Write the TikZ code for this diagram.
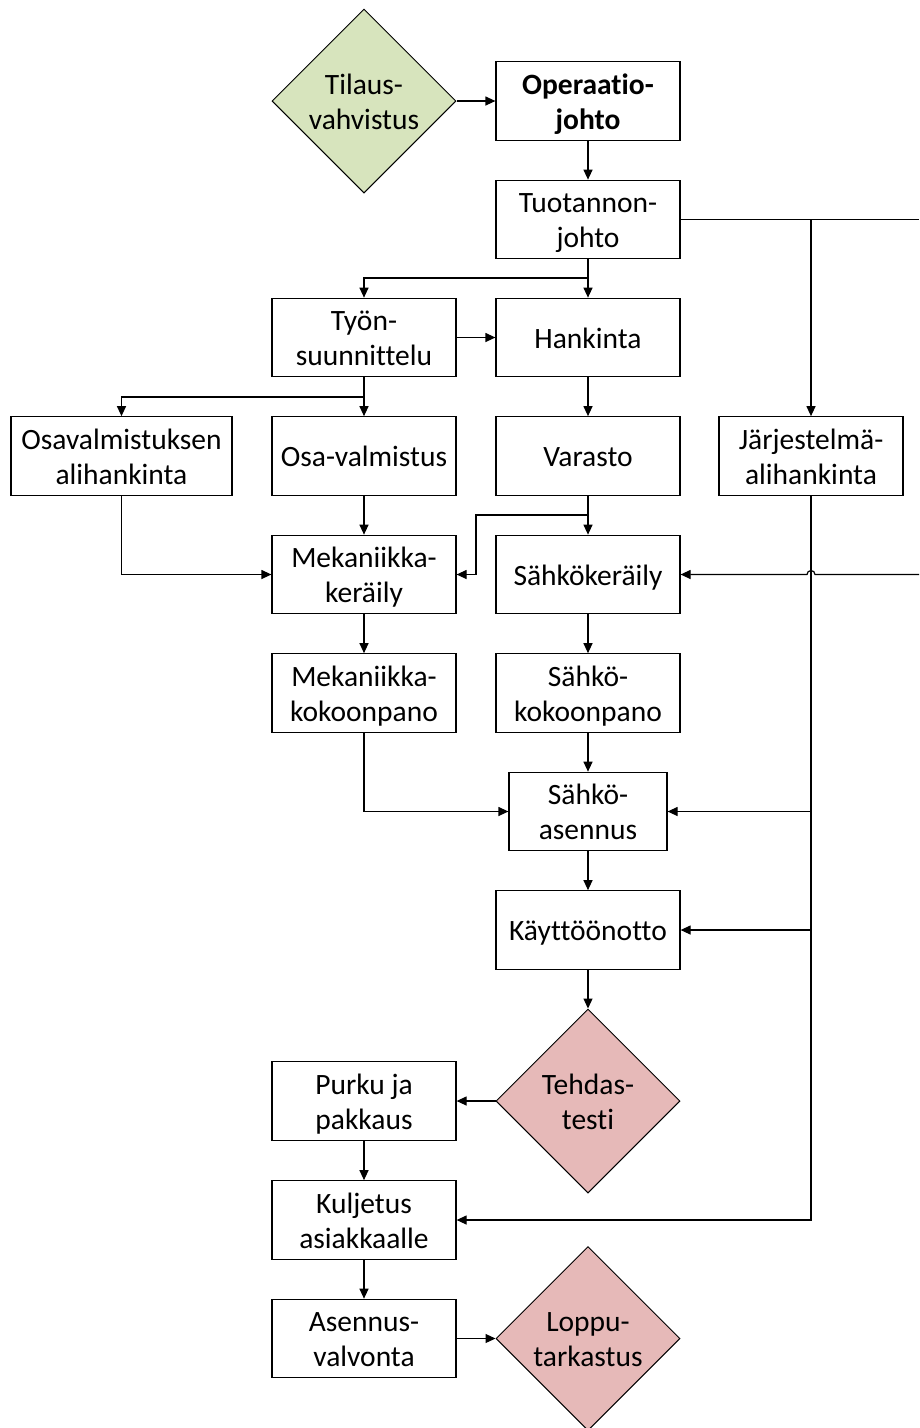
\documentclass[tikz,border=0pt]{standalone}
\usepackage{fontspec}
\setmainfont{Carlito}[Ligatures=NoCommon]
\usetikzlibrary{arrows.meta,shapes.geometric}

\definecolor{ordergreen}{HTML}{D7E4BD}
\definecolor{testpink}{HTML}{E6B9B8}

% line strut: every text line gets the same height and depth
\newcommand{\lstrut}{\rule[-7pt]{0pt}{35pt}}

\tikzset{
  stepbox/.style={draw, line width=1.2pt, rectangle, inner sep=0pt,
    minimum width=184pt, minimum height=78.5pt, align=center,
    font=\fontsize{29.5}{35}\selectfont},
  decision/.style={draw, line width=1pt, diamond, aspect=1, inner sep=0pt,
    minimum width=184pt, minimum height=184pt, align=center,
    font=\fontsize{29.5}{35}\selectfont},
  link/.style={line width=1.2pt},
  arr/.style={link, -{Triangle[length=10pt,width=9pt]}}
}

\begin{document}
\begin{tikzpicture}[x=1pt, y=-1pt]
  \useasboundingbox (0,0) rectangle (919,1428);

  % top row
  \node[decision, fill=ordergreen] (tilaus) at (364,101) {\lstrut Tilaus-\\\lstrut vahvistus};
  \node[stepbox] (oper) at (588,101) {\lstrut\textbf{Operaatio-}\\\lstrut\textbf{johto}};
  \node[stepbox] (tuot) at (588,219.5) {\lstrut Tuotannon-\\\lstrut johto};

  % planning and purchasing
  \node[stepbox] (tyon) at (364,337.5) {\lstrut Työn-\\\lstrut suunnittelu};
  \node[stepbox] (hank) at (588,337.5) {\lstrut Hankinta};

  % parts, stock and subcontracting
  \node[stepbox, minimum width=221pt] (osaal) at (121.5,456) {\lstrut Osavalmistuksen\\\lstrut alihankinta};
  \node[stepbox] (osaval) at (364,456) {\lstrut Osa-valmistus};
  \node[stepbox] (varasto) at (588,456) {\lstrut Varasto};
  \node[stepbox] (jarj) at (811,456) {\lstrut Järjestelmä-\\\lstrut alihankinta};

  % picking
  \node[stepbox] (mekker) at (364,574.5) {\lstrut Mekaniikka-\\\lstrut keräily};
  \node[stepbox] (sahker) at (588,574.5) {\lstrut Sähkökeräily};

  % assembly
  \node[stepbox] (mekkok) at (364,693) {\lstrut Mekaniikka-\\\lstrut kokoonpano};
  \node[stepbox] (sahkok) at (588,693) {\lstrut Sähkö-\\\lstrut kokoonpano};
  \node[stepbox, minimum width=158pt] (sahkoas) at (588,811.5) {\lstrut Sähkö-\\\lstrut asennus};
  \node[stepbox] (kaytto) at (588,930) {\lstrut Käyttöönotto};

  % testing and delivery
  \node[decision, fill=testpink] (tehdas) at (588,1101) {\lstrut Tehdas-\\\lstrut testi};
  \node[stepbox] (purku) at (364,1101) {\lstrut Purku ja\\\lstrut pakkaus};
  \node[stepbox] (kulj) at (364,1220) {\lstrut Kuljetus\\\lstrut asiakkaalle};
  \node[stepbox] (asval) at (364,1338.5) {\lstrut Asennus-\\\lstrut valvonta};
  \node[decision, fill=testpink] (loppu) at (588,1338.5) {\lstrut Loppu-\\\lstrut tarkastus};

  % helper points
  \coordinate (rim) at (919,0);
  \coordinate (split1) at (588,278);
  \coordinate (split2) at (364,397);
  \coordinate (split3) at (588,515);
  \coordinate (bend) at (476,515);
  \coordinate (edgeA) at (tuot.east -| rim);
  \coordinate (edgeB) at (sahker.east -| rim);
  \coordinate (branchA) at (jarj.north |- tuot.east);
  \coordinate (jmp) at (jarj.south |- sahker.east);

  % main flow
  \draw[arr] (tilaus.east) -- (oper.west);
  \draw[arr] (oper) -- (tuot);
  \draw[arr] (tuot) -- (hank);
  \draw[arr] (split1) -| (tyon.north);
  \draw[arr] (tyon) -- (hank);
  \draw[arr] (tyon) -- (osaval);
  \draw[arr] (split2) -| (osaal.north);
  \draw[arr] (hank) -- (varasto);
  \draw[arr] (varasto) -- (sahker);
  \draw[arr] (split3) -- (bend) |- (mekker.east);
  \draw[arr] (osaal.south) |- (mekker.west);
  \draw[arr] (osaval) -- (mekker);
  \draw[arr] (mekker) -- (mekkok);
  \draw[arr] (sahker) -- (sahkok);
  \draw[arr] (sahkok) -- (sahkoas);
  \draw[arr] (mekkok.south) |- (sahkoas.west);
  \draw[arr] (sahkoas) -- (kaytto);
  \draw[arr] (kaytto) -- (tehdas);
  \draw[arr] (tehdas.west) -- (purku.east);
  \draw[arr] (purku) -- (kulj);
  \draw[arr] (kulj) -- (asval);
  \draw[arr] (asval.east) -- (loppu.west);

  % system subcontracting branch
  \draw[link] (tuot.east) -- (edgeA);
  \draw[arr] (branchA) -- (jarj.north);
  \draw[arr] (jarj.south) |- (kulj.east);
  \draw[arr] (jarj.south |- sahkoas.east) -- (sahkoas.east);
  \draw[arr] (jarj.south |- kaytto.east) -- (kaytto.east);
  \draw[arr] (edgeB) -- ([xshift=4pt]jmp)
    arc[start angle=0, end angle=180, radius=4pt] -- (sahker.east);
\end{tikzpicture}
\end{document}
